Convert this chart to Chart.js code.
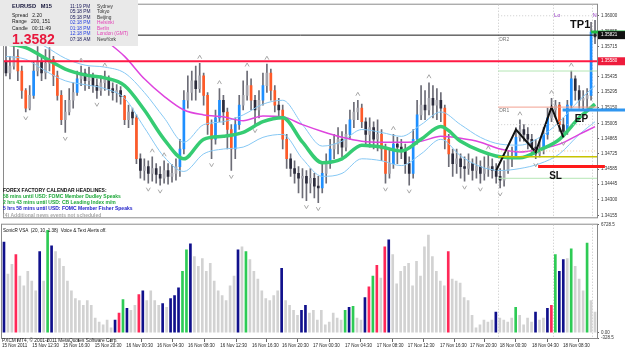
<!DOCTYPE html>
<html>
<head>
<meta charset="utf-8">
<script src="https://cdn.jsdelivr.net/npm/chart.js@4.4.1/dist/chart.umd.min.js"></script>
<style>
  html, body { margin: 0; padding: 0; background: #fff; }
  #wrap { position: relative; width: 625px; height: 352px; overflow: hidden; }
  #priceCanvas { position: absolute; left: 0; top: 0; }
  #volCanvas { position: absolute; left: 0; top: 220px; }
</style>
</head>
<body>
<div id="wrap">
  <canvas id="priceCanvas" width="625" height="222"></canvas>
  <canvas id="volCanvas" width="625" height="132"></canvas>
</div>
<script>
// EURUSD M15 - one entry per candle (open = previous close)
const firstOpen = 1.35580;
const closes = [
  1.35472, 1.35535, 1.35625, 1.35490, 1.35310, 1.35148, 1.35265, 1.35490, 1.35580, 1.35472,
  1.35562, 1.35598, 1.35445, 1.35265, 1.35040, 1.35112, 1.35220, 1.35292, 1.35418, 1.35472,
  1.35400, 1.35436, 1.35355, 1.35310, 1.35382, 1.35418, 1.35328, 1.35292, 1.35310, 1.35256,
  1.35040, 1.35112, 1.35058, 1.34680, 1.34572, 1.34608, 1.34545, 1.34590, 1.34536, 1.34500,
  1.34572, 1.34518, 1.34545, 1.34608, 1.34770, 1.35220, 1.35292, 1.35400, 1.35328, 1.35445,
  1.35265, 1.34995, 1.34860, 1.35058, 1.35220, 1.35112, 1.34950, 1.34770, 1.34995, 1.35175,
  1.35265, 1.35355, 1.35220, 1.35130, 1.35220, 1.35355, 1.35472, 1.35310, 1.35175, 1.35130,
  1.34860, 1.34680, 1.34590, 1.34545, 1.34500, 1.34518, 1.34455, 1.34500, 1.34428, 1.34410,
  1.34545, 1.34635, 1.34770, 1.34815, 1.34860, 1.34788, 1.34905, 1.35040, 1.35112, 1.35148,
  1.35022, 1.34905, 1.34968, 1.34860, 1.34905, 1.34770, 1.34545, 1.34635, 1.34815, 1.34788,
  1.34752, 1.34635, 1.34545, 1.34860, 1.35085, 1.35175, 1.35130, 1.35238, 1.35175, 1.35220,
  1.35148, 1.34860, 1.34725, 1.34635, 1.34680, 1.34608, 1.34590, 1.34635, 1.34572, 1.34608,
  1.34545, 1.34590, 1.34608, 1.34572, 1.34518, 1.34482, 1.34572, 1.34680, 1.34698, 1.34878,
  1.34950, 1.34905, 1.34860, 1.34788, 1.34725, 1.34770, 1.34905, 1.35058, 1.35130, 1.35175,
  1.34995, 1.34932, 1.35175, 1.35418, 1.35310, 1.35220, 1.35238, 1.35265, 1.35850, 1.35805
];
const highs = [
  1.35715, 1.35625, 1.35724, 1.35688, 1.35535, 1.35328, 1.35355, 1.35580, 1.35715, 1.35625,
  1.35688, 1.35706, 1.35625, 1.35490, 1.35310, 1.35220, 1.35328, 1.35382, 1.35490, 1.35535,
  1.35508, 1.35526, 1.35472, 1.35418, 1.35445, 1.35490, 1.35445, 1.35382, 1.35364, 1.35346,
  1.35265, 1.35175, 1.35148, 1.35085, 1.34725, 1.34680, 1.34662, 1.34698, 1.34635, 1.34608,
  1.34662, 1.34635, 1.34626, 1.34680, 1.34860, 1.35310, 1.35445, 1.35490, 1.35535, 1.35562,
  1.35472, 1.35292, 1.35040, 1.35130, 1.35328, 1.35265, 1.35148, 1.34995, 1.35058, 1.35265,
  1.35400, 1.35490, 1.35418, 1.35265, 1.35310, 1.35472, 1.35553, 1.35508, 1.35355, 1.35238,
  1.35175, 1.34905, 1.34725, 1.34662, 1.34608, 1.34590, 1.34572, 1.34590, 1.34545, 1.34518,
  1.34635, 1.34725, 1.34860, 1.34905, 1.34968, 1.34932, 1.34995, 1.35130, 1.35202, 1.35220,
  1.35184, 1.35058, 1.35058, 1.35022, 1.35040, 1.34950, 1.34815, 1.34770, 1.34905, 1.34878,
  1.34860, 1.34815, 1.34698, 1.34950, 1.35220, 1.35355, 1.35310, 1.35382, 1.35355, 1.35328,
  1.35292, 1.35175, 1.34905, 1.34770, 1.34770, 1.34725, 1.34698, 1.34725, 1.34680, 1.34698,
  1.34662, 1.34698, 1.34725, 1.34680, 1.34635, 1.34590, 1.34662, 1.34752, 1.34788, 1.34968,
  1.35040, 1.34995, 1.34968, 1.34905, 1.34860, 1.34842, 1.34968, 1.35148, 1.35238, 1.35220,
  1.35202, 1.35058, 1.35220, 1.35490, 1.35445, 1.35355, 1.35310, 1.35328, 1.35940, 1.35958
];
const lows = [
  1.35445, 1.35418, 1.35508, 1.35400, 1.35238, 1.35112, 1.35130, 1.35238, 1.35445, 1.35400,
  1.35418, 1.35490, 1.35355, 1.35220, 1.34995, 1.34923, 1.35085, 1.35148, 1.35265, 1.35355,
  1.35310, 1.35328, 1.35292, 1.35238, 1.35265, 1.35310, 1.35265, 1.35220, 1.35202, 1.35184,
  1.34995, 1.34968, 1.34995, 1.34635, 1.34500, 1.34482, 1.34455, 1.34473, 1.34455, 1.34437,
  1.34455, 1.34446, 1.34464, 1.34482, 1.34518, 1.34725, 1.35148, 1.35220, 1.35220, 1.35292,
  1.35175, 1.34905, 1.34680, 1.34815, 1.35022, 1.34995, 1.34770, 1.34572, 1.34680, 1.34950,
  1.35130, 1.35220, 1.35130, 1.34995, 1.35058, 1.35175, 1.35292, 1.35220, 1.35112, 1.35058,
  1.34770, 1.34590, 1.34518, 1.34455, 1.34365, 1.34320, 1.34293, 1.34365, 1.34320, 1.34275,
  1.34365, 1.34455, 1.34590, 1.34680, 1.34725, 1.34698, 1.34752, 1.34860, 1.34968, 1.35040,
  1.34968, 1.34815, 1.34788, 1.34770, 1.34752, 1.34662, 1.34455, 1.34500, 1.34590, 1.34635,
  1.34680, 1.34545, 1.34437, 1.34500, 1.34815, 1.35040, 1.35040, 1.35085, 1.35058, 1.35040,
  1.35022, 1.34770, 1.34608, 1.34518, 1.34545, 1.34500, 1.34473, 1.34536, 1.34482, 1.34500,
  1.34455, 1.34482, 1.34518, 1.34500, 1.34455, 1.34410, 1.34428, 1.34545, 1.34608, 1.34680,
  1.34842, 1.34842, 1.34770, 1.34725, 1.34680, 1.34698, 1.34725, 1.34860, 1.35022, 1.35058,
  1.34932, 1.34878, 1.34905, 1.35148, 1.35220, 1.35148, 1.35130, 1.35148, 1.35220, 1.35742
];

// SonicR VSA volume and its signal colour (n normal, b climax, r red, g green)
const volumes = [
  5650, 3650, 4260, 4860, 3530, 2920, 3830, 3220, 2610, 5050,
  3220, 6380, 5410, 5050, 4620, 4130, 3220, 2610, 2130, 2010,
  1700, 2010, 1700, 910, 670, 490, 790, 300, 790, 1220,
  2070, 1520, 1400, 1700, 2370, 2610, 2010, 2610, 2010, 1700,
  1820, 1580, 2130, 2310, 2800, 3830, 5170, 5530, 4740, 4130,
  4620, 3830, 4320, 3220, 2610, 2310, 2010, 2920, 3530, 5170,
  5350, 5050, 4560, 3830, 3340, 2610, 2130, 2010, 2310, 2610,
  4010, 2010, 1700, 1400, 1090, 1400, 1700, 1220, 1400, 790,
  1400, 490, 670, 1220, 910, 790, 1400, 1580, 1640, 910,
  790, 2190, 2860, 3530, 4200, 3400, 5350, 5780, 4860, 3040,
  3830, 4130, 4320, 2920, 4440, 3530, 5350, 6080, 4740, 3830,
  3220, 2920, 5050, 3340, 3220, 3100, 2190, 2010, 1090, 300,
  490, 790, 670, 790, 1280, 910, 790, 670, 910, 1580,
  1090, 490, 910, 670, 1280, 790, 910, 1520, 1700, 4860,
  3830, 4560, 4620, 5230, 4130, 3340, 2610, 5590, 2010, 1280
];
const volSignal = ('bnnrnnnnnb' + 'ngbnnnnnnn' + 'nnnnnnnnbr' + 'gbnnrbnnnn' + 'bnbbbggbnn' +
  'nnnnnnnnnb' + 'ngnnnnnnnn' + 'bnnnnbbnnn' + 'nnnnnngbgn' + 'nbrgrnrbnn' +
  'nnnnnnnnnn' + 'nnrnnnnnnn' + 'nnnnbnnnng' + 'nnnnbnnbrg' + 'bbngnnngnn').split('');

// moving averages read every 5 candles
const maBars = [0, 5, 10, 15, 20, 25, 30, 35, 40, 45, 50, 55, 60, 65, 70, 75, 80, 85, 90, 95, 100, 105, 110, 115, 120, 125, 130, 135, 140, 145, 149];
const greenMA = [1.35742, 1.35706, 1.35607, 1.35508, 1.35454, 1.35427, 1.35355, 1.35130, 1.34860, 1.34680, 1.34860, 1.34887, 1.34923, 1.35022, 1.35058, 1.34833, 1.34644, 1.34680, 1.34806, 1.34788, 1.34752, 1.34860, 1.34977, 1.34842, 1.34752, 1.34698, 1.34689, 1.34761, 1.34860, 1.35058, 1.35184];
const upperBand = [1.35850, 1.35805, 1.35715, 1.35607, 1.35544, 1.35526, 1.35472, 1.35292, 1.35058, 1.34833, 1.34995, 1.35022, 1.35085, 1.35184, 1.35220, 1.34995, 1.34797, 1.34842, 1.34950, 1.34923, 1.34887, 1.34995, 1.35112, 1.34995, 1.34878, 1.34815, 1.34806, 1.34878, 1.35022, 1.35220, 1.35355];
const lowerBand = [1.35625, 1.35598, 1.35490, 1.35400, 1.35364, 1.35328, 1.35238, 1.34968, 1.34698, 1.34563, 1.34725, 1.34770, 1.34788, 1.34878, 1.34905, 1.34680, 1.34518, 1.34545, 1.34680, 1.34662, 1.34617, 1.34725, 1.34860, 1.34707, 1.34608, 1.34572, 1.34590, 1.34635, 1.34725, 1.34905, 1.35022];
const magentaMA = [1.36390, 1.36300, 1.36192, 1.36048, 1.35922, 1.35778, 1.35625, 1.35418, 1.35256, 1.35130, 1.35085, 1.35067, 1.35031, 1.35076, 1.35067, 1.34995, 1.34932, 1.34878, 1.34842, 1.34833, 1.34833, 1.34842, 1.34887, 1.34869, 1.34833, 1.34770, 1.34743, 1.34770, 1.34815, 1.34905, 1.34977];

// zigzag swing points
const zigzagBars = [124, 129, 134, 138, 141];
const zigzagPrices = [1.34572, 1.34950, 1.34743, 1.35157, 1.34878];

// levels
const bidPrice = 1.35821;
const alertPrice = 1.35580;
const tpPrice = 1.35850;
const epPrice = 1.35130;
const slPrice = 1.34608;
const dr1Price = 1.35157;
const dayLevels = [1.36000, 1.35490, 1.34995, 1.34752, 1.34698, 1.34500];

// sessions (bar positions) and axis ticks
const sessionBars = [124.5, 138.4, 148.2];
const sessionNames = ['', 'Lo', 'N'];
const priceTicks = [1.36000, 1.35855, 1.35715, 1.35575, 1.35435, 1.35295, 1.35150, 1.35005, 1.34865, 1.34725, 1.34585, 1.34445, 1.34300, 1.34155];
const volTicks = [6728.5, 0, -328.5];
const xTickBars = [-0.5, 7.1, 14.9, 22.9, 30.8, 38.6, 46.4, 54.5, 62.5, 70.1, 77.9, 86, 94, 101.8, 109.9, 117.5, 125, 133.1, 140.9];
const xTickLabels = ['15 Nov 2011', '15 Nov 12:30', '15 Nov 16:30', '15 Nov 20:30', '16 Nov 00:30', '16 Nov 04:30',
  '16 Nov 08:30', '16 Nov 12:30', '16 Nov 16:30', '16 Nov 20:30', '17 Nov 00:30', '17 Nov 04:30', '17 Nov 08:30',
  '17 Nov 12:30', '17 Nov 16:30', '17 Nov 20:30', '18 Nov 00:30', '18 Nov 04:30', '18 Nov 08:30'];

const FONT = '"Liberation Sans", Arial, sans-serif';
const idx = closes.map((_, i) => i);
const opens = closes.map((c, i) => i === 0 ? firstOpen : closes[i - 1]);
const lastBar = closes.length - 0.5;

function candleColor(i) {
  const d = closes[i] - opens[i];
  if (d >= 0.0012) return '#1e8fff';
  if (d <= -0.0012) return '#ff5a28';
  return d >= 0 ? '#a4a4ac' : '#2c2c3c';
}

function level(price, from, to, color, width, dash) {
  return {
    type: 'line', data: [{x: from, y: price}, {x: to, y: price}],
    borderColor: color, borderWidth: width, borderDash: dash || [],
    pointRadius: 0, clip: false, order: 0
  };
}
function maLine(values, color, width, order) {
  return {
    type: 'line', data: maBars.map((b, k) => ({x: b, y: values[k]})),
    borderColor: color, borderWidth: width, pointRadius: 0,
    cubicInterpolationMode: 'monotone', order: order
  };
}

const framePlugin = {
  id: 'frame',
  beforeDatasetsDraw(chart) {
    const {ctx, chartArea: a, scales: {x}} = chart;
    ctx.save();
    ctx.strokeStyle = '#8a8a8a';
    ctx.lineWidth = 1;
    ctx.strokeRect(a.left - 0.5, a.top - 0.5, a.width + 1, a.height + 1);
    ctx.strokeStyle = '#c4c4c4';
    ctx.setLineDash([1, 2]);
    sessionBars.forEach(b => {
      const px = Math.round(x.getPixelForValue(b)) + 0.5;
      ctx.beginPath(); ctx.moveTo(px, a.top); ctx.lineTo(px, a.bottom); ctx.stroke();
    });
    ctx.restore();
  }
};

function mark(ctx, px, py, up) {
  ctx.beginPath();
  if (up) { ctx.moveTo(px - 2, py + 1.5); ctx.lineTo(px, py - 2); ctx.lineTo(px + 2, py + 1.5); }
  else { ctx.moveTo(px - 2, py - 1.5); ctx.lineTo(px, py + 2); ctx.lineTo(px + 2, py - 1.5); }
  ctx.stroke();
}

const priceOverlay = {
  id: 'priceOverlay',
  afterDatasetsDraw(chart) {
    const {ctx, scales: {x, y}} = chart;
    ctx.save();
    ctx.strokeStyle = '#a8a8a8';
    ctx.lineWidth = 1;
    // fractals
    for (let i = 2; i < closes.length - 2; i++) {
      if (highs[i] > highs[i - 1] && highs[i] > highs[i - 2] && highs[i] >= highs[i + 1] && highs[i] >= highs[i + 2])
        mark(ctx, x.getPixelForValue(i), y.getPixelForValue(highs[i]) - 6, true);
      if (lows[i] < lows[i - 1] && lows[i] < lows[i - 2] && lows[i] <= lows[i + 1] && lows[i] <= lows[i + 2])
        mark(ctx, x.getPixelForValue(i), y.getPixelForValue(lows[i]) + 6, false);
    }
    ctx.restore();
  },
  afterDraw(chart) {
    const {ctx, scales: {x, y}, chartArea: a} = chart;
    ctx.save();
    ctx.textBaseline = 'alphabetic';
    ctx.textAlign = 'left';

    // trade labels
    ctx.fillStyle = '#111';
    ctx.font = 'bold 11px ' + FONT;
    ctx.fillText('TP1', x.getPixelForValue(142.7), y.getPixelForValue(tpPrice) - 4);
    ctx.font = 'bold 10px ' + FONT;
    ctx.fillText('EP', x.getPixelForValue(143.9), y.getPixelForValue(epPrice) + 12);
    ctx.fillText('SL', x.getPixelForValue(137.4), y.getPixelForValue(slPrice) + 12);
    ctx.font = '5px ' + FONT;
    ctx.fillStyle = '#777';
    ctx.fillText('DR2', x.getPixelForValue(sessionBars[0]) + 1, y.getPixelForValue(bidPrice) + 6);
    ctx.fillText('DR1', x.getPixelForValue(sessionBars[0]) + 1, y.getPixelForValue(dr1Price) + 4.5);
    ctx.fillStyle = '#9a40c8';
    ctx.font = '5.5px ' + FONT;
    sessionNames.forEach((n, k) => { if (n) ctx.fillText(n, x.getPixelForValue(sessionBars[k]) + 1, a.top + 12); });

    // price boxes on the axis
    [[bidPrice, '#111'], [alertPrice, '#ee1c3c']].forEach(([p, bg]) => {
      const py = y.getPixelForValue(p);
      ctx.fillStyle = bg;
      ctx.fillRect(a.right + 1, py - 4, 27, 8);
      ctx.fillStyle = '#fff';
      ctx.font = '4.5px ' + FONT;
      ctx.textBaseline = 'middle';
      ctx.fillText(p.toFixed(5), a.right + 4, py);
      ctx.textBaseline = 'alphabetic';
    });

    // info panel
    ctx.fillStyle = '#e9e9e9';
    ctx.fillRect(0, 0, 138, 46);
    ctx.fillStyle = '#14143a';
    ctx.font = 'bold 5.7px ' + FONT;
    ctx.fillText('EURUSD   M15', 12, 8);
    ctx.font = '5px ' + FONT;
    ctx.fillStyle = '#222';
    ctx.fillText('Spread   2.20', 12, 16.5);
    ctx.fillText('Range   200, 151', 12, 23);
    ctx.fillText('Candle   00:11:49', 12, 29.5);
    ctx.fillStyle = '#e8173c';
    ctx.font = 'bold 14px ' + FONT;
    ctx.fillText('1.3582', 12, 43.5);
    const zones = [
      ['11:19 PM', 'Sydney', '#1a1a5a', '#333'],
      ['05:18 PM', 'Tokyo', '#1a1a5a', '#333'],
      ['05:18 PM', 'Beijing', '#1a1a5a', '#333'],
      ['02:18 PM', 'Helsinki', '#2a44e0', '#e23cb4'],
      ['01:18 PM', 'Berlin', '#2a44e0', '#e23cb4'],
      ['12:18 PM', 'London (GMT)', '#2a44e0', '#e23cb4'],
      ['07:18 AM', 'NewYork', '#1a1a5a', '#333']
    ];
    ctx.font = '4.8px ' + FONT;
    zones.forEach((z, k) => {
      const by = 7.7 + k * 5.55;
      ctx.fillStyle = z[2]; ctx.fillText(z[0], 70, by);
      ctx.fillStyle = z[3]; ctx.fillText(z[1], 97, by);
    });

    // news headlines
    const news = [
      ['FOREX FACTORY CALENDAR HEADLINES:', '#111'],
      ['58 mins until USD: FOMC Member Dudley Speaks', '#1fa83a'],
      ['2 hrs 43 mins until USD: CB Leading Index m/m', '#1fa83a'],
      ['5 hrs 58 mins until USD: FOMC Member Fisher Speaks', '#1c1cc8'],
      ['(4) Additional news events not scheduled', '#a8a8a8']
    ];
    ctx.font = 'bold 5px ' + FONT;
    news.forEach((n, k) => { ctx.fillStyle = n[1]; ctx.fillText(n[0], 3, 191.7 + k * 6.2); });
    ctx.restore();
  }
};

const volOverlay = {
  id: 'volOverlay',
  afterDraw(chart) {
    const {ctx, chartArea: a} = chart;
    ctx.save();
    ctx.fillStyle = '#111';
    ctx.font = '4.6px ' + FONT;
    ctx.fillText('SonicR VSA  (20, 10, 1.38)  Voice & Text Alerts off.', 3, a.top + 7);
    ctx.fillStyle = '#222';
    ctx.font = '4.8px ' + FONT;
    ctx.fillText('PXCM MT4, \u00a9 2001-2011 MetaQuotes Software Corp.', 2, a.bottom + 3.5);
    ctx.restore();
  }
};

// price window
new Chart(document.getElementById('priceCanvas'), {
  type: 'bar',
  data: {
    datasets: [
      level(bidPrice, -0.5, lastBar, '#1a1a1a', 1),
      level(alertPrice, -0.5, lastBar, '#ff1a44', 2),
      level(dayLevels[0], sessionBars[0], lastBar, '#cccccc', 1, [1, 2]),
      level(dayLevels[1], sessionBars[0], lastBar, '#b4e6b4', 1),
      level(dr1Price, sessionBars[0], lastBar, '#f2a090', 1),
      level(dayLevels[2], sessionBars[0], lastBar, '#cccccc', 1, [1, 2]),
      level(dayLevels[3], sessionBars[0], lastBar, '#f0c890', 1, [1, 2]),
      level(dayLevels[4], sessionBars[0], lastBar, '#c8c400', 1.5),
      level(dayLevels[5], sessionBars[0], lastBar, '#b4e6b4', 1),
      level(tpPrice, 148, 157, '#22b844', 3),
      level(epPrice, 140.8, 157, '#2f96f0', 3),
      level(slPrice, 134.6, 151.5, '#ff1a1a', 3),
      {
        type: 'line', data: [{x: 151, y: bidPrice}], pointRadius: 2.5,
        pointBackgroundColor: '#ff5522', pointBorderWidth: 0, clip: false, order: 0
      },
      {
        type: 'line', data: zigzagBars.map((b, k) => ({x: b, y: zigzagPrices[k]})),
        borderColor: '#111', borderWidth: 2, pointRadius: 0, order: 0
      },
      maLine(greenMA, '#36cc73', 3.5, 1),
      maLine(magentaMA, '#de44de', 1.5, 2),
      maLine(upperBand, '#86c8f4', 1, 3),
      maLine(lowerBand, '#86c8f4', 1, 3),
      {
        type: 'bar', data: idx.map(i => ({x: i, y: [opens[i], closes[i]]})),
        backgroundColor: idx.map(candleColor), barThickness: 2, minBarLength: 1,
        grouped: false, order: 4
      },
      {
        type: 'bar', data: idx.map(i => ({x: i, y: [lows[i], highs[i]]})),
        backgroundColor: '#6c6c76', barThickness: 1, grouped: false, order: 5
      }
    ]
  },
  options: {
    responsive: false,
    animation: false,
    layout: {padding: {left: 2, top: 2, right: 0, bottom: 2}},
    plugins: {legend: {display: false}, tooltip: {enabled: false}},
    scales: {
      x: {type: 'linear', min: -0.5, max: 149.5, offset: false, display: false},
      y: {
        position: 'right', min: 1.34140, max: 1.36102,
        afterBuildTicks: s => { s.ticks = priceTicks.map(v => ({value: v})); },
        afterFit: s => { s.width = 28; },
        ticks: {
          autoSkip: false, padding: 2, color: '#333',
          font: {family: FONT, size: 4.5},
          callback: v => v.toFixed(5)
        },
        grid: {drawOnChartArea: false, tickLength: 2, color: '#666'},
        border: {color: '#777'}
      }
    }
  },
  plugins: [framePlugin, priceOverlay]
});

// volume window
const volColors = {n: '#d2d2d2', b: '#10108c', r: '#ff2858', g: '#2ecb55'};
new Chart(document.getElementById('volCanvas'), {
  type: 'bar',
  data: {
    datasets: [{
      data: idx.map(i => ({x: i, y: volumes[i]})),
      backgroundColor: idx.map(i => volColors[volSignal[i]]),
      barThickness: 2, grouped: false
    }]
  },
  options: {
    responsive: false,
    animation: false,
    layout: {padding: {left: 2, top: 2, right: 0, bottom: 0}},
    plugins: {legend: {display: false}, tooltip: {enabled: false}},
    scales: {
      x: {
        type: 'linear', min: -0.5, max: 149.5, offset: false,
        afterBuildTicks: s => { s.ticks = xTickBars.map(v => ({value: v})); },
        afterFit: s => { s.height = 14; },
        ticks: {
          autoSkip: false, maxRotation: 0, minRotation: 0, align: 'start', padding: 1,
          color: '#222', font: {family: FONT, size: 4.5},
          callback: (v, i) => xTickLabels[i]
        },
        grid: {drawOnChartArea: false, tickLength: 4, color: '#666'},
        border: {color: '#777'}
      },
      y: {
        position: 'right', min: -328.5, max: 6728.5,
        afterBuildTicks: s => { s.ticks = volTicks.map(v => ({value: v})); },
        afterFit: s => { s.width = 28; },
        ticks: {
          autoSkip: false, padding: 2, color: '#333',
          font: {family: FONT, size: 4.5},
          callback: v => v === 0 ? '0.00' : v.toFixed(1)
        },
        grid: {drawOnChartArea: false, tickLength: 2, color: '#666'},
        border: {color: '#777'}
      }
    }
  },
  plugins: [framePlugin, volOverlay]
});
</script>
</body>
</html>
